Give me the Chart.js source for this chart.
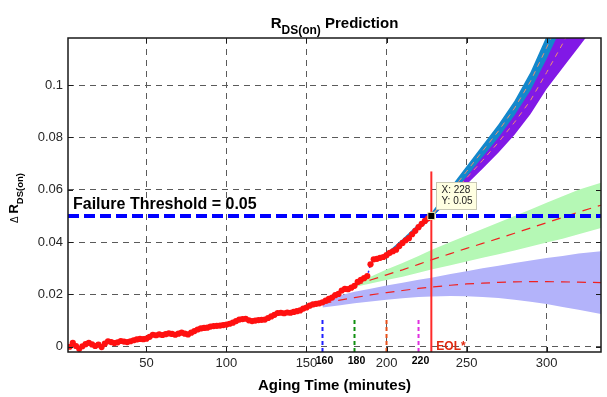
<!DOCTYPE html>
<html>
<head>
<meta charset="utf-8">
<script src="https://cdn.jsdelivr.net/npm/chart.js@4.4.0/dist/chart.umd.min.js"></script>
<style>
  html, body { margin: 0; padding: 0; background: #fff; }
  #wrap { width: 607px; height: 397px; }
</style>
</head>
<body>
<div id="wrap"><canvas id="rdsChart"></canvas></div>
<script>
// ---- values ----
const xTicks = [50, 100, 150, 200, 250, 300];
const yTicks = [0, 0.02, 0.04, 0.06, 0.08, 0.1];
const yTickLabels = ['0', '0.02', '0.04', '0.06', '0.08', '0.1'];

// measured Delta R_DS(on)
const agingTime = [
  2, 4, 6, 8, 10, 12, 14, 16, 18, 20,
  22, 24, 26, 28, 30, 32, 34, 36, 38, 40,
  42, 44, 46, 48, 50, 52, 54, 56, 58, 60,
  62, 64, 66, 68, 70, 72, 74, 76, 78, 80,
  82, 84, 86, 88, 90, 92, 94, 96, 98, 100,
  102, 104, 106, 108, 110, 112, 114, 116, 118, 120,
  122, 124, 126, 128, 130, 132, 134, 136, 138, 140,
  142, 144, 146, 148, 150, 152, 154, 156, 158, 160,
  162, 164, 166, 168, 170, 172, 174, 176, 178, 180,
  182, 184, 186, 188, 190, 192, 194, 196, 198, 200,
  202, 204, 206, 208, 210, 212, 214, 216, 218, 220,
  222, 224, 226, 228
];
const rdsMeasured = [
  0.0000, 0.0015, 0.0003, -0.0008, 0.0002, 0.0010, 0.0015, 0.0009, 0.0003, 0.0008,
  -0.0001, 0.0012, 0.0021, 0.0018, 0.0014, 0.0017, 0.0022, 0.0020, 0.0018, 0.0021,
  0.0025, 0.0028, 0.0030, 0.0029, 0.0031, 0.0038, 0.0046, 0.0044, 0.0047, 0.0045,
  0.0048, 0.0051, 0.0049, 0.0046, 0.0050, 0.0054, 0.0050, 0.0047, 0.0054, 0.0060,
  0.0066, 0.0070, 0.0072, 0.0073, 0.0077, 0.0079, 0.0080, 0.0081, 0.0083, 0.0085,
  0.0088, 0.0092, 0.0098, 0.0104, 0.0106, 0.0107, 0.0101, 0.0098, 0.0100, 0.0102,
  0.0103, 0.0104, 0.0110, 0.0116, 0.0122, 0.0129, 0.0130, 0.0128, 0.0131, 0.0130,
  0.0133, 0.0136, 0.0139, 0.0146, 0.0150, 0.0157, 0.0162, 0.0164, 0.0166, 0.0170,
  0.0176, 0.0183, 0.0188, 0.0197, 0.0202, 0.0215, 0.0221, 0.0220, 0.0226, 0.0233,
  0.0248, 0.0256, 0.0262, 0.0270, 0.0315, 0.0334, 0.0336, 0.0340, 0.0343, 0.0350,
  0.0359, 0.0365, 0.0371, 0.0385, 0.0397, 0.0407, 0.0415, 0.0430, 0.0443, 0.0457,
  0.0470, 0.0481, 0.0491, 0.0500
];

const failureThreshold = 0.05;
const eolTime = 228;
const predStarts = [160, 180, 200, 220];

// prediction started at 160 min (lavender band)
const pred160Time  = [160, 170, 180, 190, 200, 210, 220, 228, 240, 250, 260, 270, 280, 290, 300, 310, 320, 334];
const pred160Upper = [0.0178, 0.0195, 0.0210, 0.0222, 0.0234, 0.0245, 0.0256, 0.0264, 0.0278, 0.0289, 0.0300, 0.0310, 0.0320, 0.0330, 0.0339, 0.0347, 0.0356, 0.0365];
const pred160Lower = [0.0150, 0.0158, 0.0166, 0.0173, 0.0180, 0.0185, 0.0190, 0.0192, 0.0194, 0.0193, 0.0190, 0.0186, 0.0180, 0.0172, 0.0163, 0.0152, 0.0141, 0.0125];
const pred160Mean  = [0.0164, 0.0177, 0.0188, 0.0198, 0.0207, 0.0215, 0.0223, 0.0228, 0.0235, 0.0240, 0.0243, 0.0246, 0.0248, 0.0249, 0.0249, 0.0248, 0.0247, 0.0245];

// prediction started at 180 min (green band)
const pred180Time  = [180, 190, 200, 210, 220, 228, 240, 250, 260, 270, 280, 290, 300, 310, 320, 334];
const pred180Upper = [0.0238, 0.0268, 0.0295, 0.0320, 0.0347, 0.0370, 0.0400, 0.0425, 0.0450, 0.0475, 0.0500, 0.0525, 0.0550, 0.0575, 0.0600, 0.0627];
const pred180Lower = [0.0228, 0.0242, 0.0255, 0.0268, 0.0283, 0.0295, 0.0312, 0.0326, 0.0340, 0.0354, 0.0368, 0.0383, 0.0398, 0.0413, 0.0430, 0.0454];
const pred180Mean  = [0.0233, 0.0255, 0.0275, 0.0294, 0.0315, 0.0332, 0.0356, 0.0376, 0.0395, 0.0414, 0.0434, 0.0454, 0.0474, 0.0494, 0.0515, 0.0541];

// prediction started at 200 min (blue band)
const pred200Time  = [196, 200, 210, 220, 228, 240, 250, 260, 270, 280, 290, 300, 310];
const pred200Upper = [0.0345, 0.0358, 0.0412, 0.0470, 0.0512, 0.0610, 0.0690, 0.0770, 0.0850, 0.0940, 0.1050, 0.1187, 0.1320];
const pred200Lower = [0.0335, 0.0345, 0.0393, 0.0446, 0.0488, 0.0575, 0.0650, 0.0725, 0.0800, 0.0885, 0.0980, 0.1100, 0.1230];
const pred200Mean  = [0.0340, 0.0351, 0.0402, 0.0458, 0.0500, 0.0592, 0.0670, 0.0748, 0.0825, 0.0912, 0.1015, 0.1143, 0.1275];

// prediction started at 220 min (purple band)
const pred220Time  = [220, 228, 240, 250, 260, 270, 280, 290, 300, 310, 320, 330];
const pred220Upper = [0.0458, 0.0505, 0.0595, 0.0670, 0.0745, 0.0822, 0.0905, 0.0995, 0.1110, 0.1250, 0.1400, 0.1560];
const pred220Lower = [0.0452, 0.0495, 0.0560, 0.0620, 0.0680, 0.0742, 0.0810, 0.0890, 0.0985, 0.1065, 0.1145, 0.1225];
const pred220Mean  = [0.0455, 0.0500, 0.0578, 0.0645, 0.0712, 0.0782, 0.0858, 0.0942, 0.1048, 0.1158, 0.1272, 0.1392];

// ---- chart ----
const X_MIN = 1, X_MAX = 334, Y_MIN = -0.002, Y_MAX = 0.118;
const FONT = '"Liberation Sans", Arial, Helvetica, sans-serif';

function pts(xs, ys) {
  return xs.map((v, i) => ({ x: v, y: ys[i] }));
}

function bandEdge(xs, ys, fillColor, isLower) {
  return {
    data: pts(xs, ys),
    borderWidth: 0,
    pointRadius: 0,
    backgroundColor: fillColor,
    fill: isLower ? '-1' : false
  };
}

function dashedLine(xs, ys, color, width, dash) {
  return {
    data: pts(xs, ys),
    borderColor: color,
    borderWidth: width,
    borderDash: dash,
    pointRadius: 0,
    fill: false
  };
}

const datasets = [
  bandEdge(pred160Time, pred160Upper, '#b3b3fa', false),
  bandEdge(pred160Time, pred160Lower, '#b3b3fa', true),
  bandEdge(pred180Time, pred180Upper, '#b5f8b5', false),
  bandEdge(pred180Time, pred180Lower, '#b5f8b5', true),
  bandEdge(pred220Time, pred220Upper, '#8119e6', false),
  bandEdge(pred220Time, pred220Lower, '#8119e6', true),
  bandEdge(pred200Time, pred200Upper, '#1388cc', false),
  bandEdge(pred200Time, pred200Lower, '#1388cc', true),
  dashedLine(pred160Time, pred160Mean, '#f02020', 1.2, [9, 7]),
  dashedLine(pred180Time, pred180Mean, '#f02020', 1.2, [9, 7]),
  dashedLine(pred220Time, pred220Mean, '#f09070', 1, [5, 5]),
  dashedLine(pred200Time, pred200Mean, '#f09070', 1, [5, 5]),
  // failure threshold
  dashedLine([X_MIN, X_MAX], [failureThreshold, failureThreshold], '#0000ff', 4, [11, 5]),
  // measured data: blue dotted line with red dots
  dashedLine(agingTime, rdsMeasured, '#2a2aff', 1.5, [2, 3]),
  {
    data: pts(agingTime, rdsMeasured),
    showLine: false,
    pointRadius: 3.1,
    pointBackgroundColor: '#ff1010',
    pointBorderWidth: 0
  },
  // prediction start markers
  dashedLine([predStarts[0], predStarts[0]], [Y_MIN, 0.0105], '#2020ff', 2, [4, 3]),
  dashedLine([predStarts[1], predStarts[1]], [Y_MIN, 0.0105], '#109010', 2, [4, 3]),
  dashedLine([predStarts[2], predStarts[2]], [Y_MIN, 0.0105], '#e8501a', 2, [4, 3]),
  dashedLine([predStarts[3], predStarts[3]], [Y_MIN, 0.0105], '#e030e0', 2, [4, 3]),
  // end of life
  dashedLine([eolTime, eolTime], [Y_MIN, 0.067], '#ff2a2a', 2, []),
  {
    data: [{ x: eolTime, y: failureThreshold }],
    showLine: false,
    pointStyle: 'rect',
    pointRadius: 5,
    pointBackgroundColor: '#000000',
    pointBorderColor: '#f4f0b0',
    pointBorderWidth: 1
  }
];
// later entries sit on top
datasets.forEach((d, i) => { d.order = 100 - i; d.clip = 0; });

// text, frame and datatip drawn on top of the plot
const decorPlugin = {
  id: 'decor',
  afterDraw(chart) {
    const { ctx, chartArea: a, scales: { x, y } } = chart;
    ctx.save();

    // axes box with inward ticks
    ctx.strokeStyle = '#1a1a1a';
    ctx.lineWidth = 1.5;
    ctx.setLineDash([]);
    ctx.strokeRect(a.left, a.top, a.right - a.left, a.bottom - a.top);
    ctx.lineWidth = 1;
    ctx.beginPath();
    xTicks.forEach(v => {
      const px = Math.round(x.getPixelForValue(v)) + 0.5;
      ctx.moveTo(px, a.bottom); ctx.lineTo(px, a.bottom - 5);
      ctx.moveTo(px, a.top); ctx.lineTo(px, a.top + 5);
    });
    yTicks.forEach(v => {
      const py = Math.round(y.getPixelForValue(v)) + 0.5;
      ctx.moveTo(a.left, py); ctx.lineTo(a.left + 5, py);
      ctx.moveTo(a.right, py); ctx.lineTo(a.right - 5, py);
    });
    ctx.stroke();

    // title R_DS(on) Prediction
    const bigT = 'bold 15px ' + FONT, subT = 'bold 12px ' + FONT;
    ctx.fillStyle = '#000';
    ctx.textBaseline = 'alphabetic';
    ctx.textAlign = 'left';
    ctx.font = bigT; const wR = ctx.measureText('R').width;
    const wP = ctx.measureText(' Prediction').width;
    ctx.font = subT; const wS = ctx.measureText('DS(on)').width;
    let tx = (a.left + a.right) / 2 - (wR + wS + wP) / 2;
    ctx.font = bigT; ctx.fillText('R', tx, 28);
    ctx.font = subT; ctx.fillText('DS(on)', tx + wR, 34);
    ctx.font = bigT; ctx.fillText(' Prediction', tx + wR + wS, 28);

    // x axis title
    ctx.font = 'bold 15px ' + FONT;
    ctx.textAlign = 'center';
    ctx.fillText('Aging Time (minutes)', (a.left + a.right) / 2, 390);

    // y axis title, rotated
    ctx.save();
    ctx.translate(18, 223);
    ctx.rotate(-Math.PI / 2);
    ctx.textAlign = 'left';
    ctx.font = '10px ' + FONT;
    ctx.fillText('\u0394', 0, 0);
    const wD = ctx.measureText('\u0394 ').width;
    ctx.font = 'bold 13px ' + FONT;
    ctx.fillText('R', wD, 0);
    const wR2 = ctx.measureText('R').width;
    ctx.font = 'bold 9.5px ' + FONT;
    ctx.fillText('DS(on)', wD + wR2, 5);
    ctx.restore();

    // failure threshold label
    ctx.font = 'bold 16px ' + FONT;
    ctx.textAlign = 'left';
    ctx.fillText('Failure Threshold = ' + failureThreshold, a.left + 5, y.getPixelForValue(failureThreshold) - 7);

    // prediction start labels
    ctx.font = 'bold 10.5px ' + FONT;
    ctx.textAlign = 'center';
    ctx.textBaseline = 'top';
    [160, 180, 220].forEach(v => {
      ctx.fillText(String(v), x.getPixelForValue(v) + 2, a.bottom + 4);
    });

    // EOL label
    ctx.fillStyle = '#e02a10';
    ctx.font = 'bold 12px ' + FONT;
    ctx.textAlign = 'left';
    ctx.textBaseline = 'alphabetic';
    ctx.fillText('EOL*', x.getPixelForValue(eolTime) + 5, a.bottom - 2);

    // datatip
    const mx = x.getPixelForValue(eolTime), my = y.getPixelForValue(failureThreshold);
    const bx = Math.round(mx + 5) + 0.5, by = Math.round(my - 34) + 0.5;
    ctx.fillStyle = '#ffffe1';
    ctx.strokeStyle = '#c8c8b4';
    ctx.lineWidth = 1;
    ctx.fillRect(bx, by, 40, 27);
    ctx.strokeRect(bx, by, 40, 27);
    ctx.fillStyle = '#222';
    ctx.font = '10px ' + FONT;
    ctx.textBaseline = 'middle';
    ctx.fillText('X: ' + eolTime, bx + 5, by + 8);
    ctx.fillText('Y: ' + failureThreshold, bx + 5, by + 19);

    ctx.restore();
  }
};

const ctxR = document.getElementById('rdsChart').getContext('2d');
const rdsChart = new Chart(ctxR, {
  type: 'line',
  data: { datasets: datasets },
  options: {
    responsive: true,
    maintainAspectRatio: false,
    animation: false,
    devicePixelRatio: 1,
    layout: { padding: { top: 38, right: 3, left: 0, bottom: 0 } },
    scales: {
      x: {
        type: 'linear',
        min: X_MIN,
        max: X_MAX,
        afterBuildTicks: scale => { scale.ticks = xTicks.map(v => ({ value: v })); },
        afterFit: scale => { scale.height = 45; },
        ticks: {
          autoSkip: false,
          maxRotation: 0,
          padding: 4,
          color: '#262626',
          font: { family: FONT, size: 13 }
        },
        grid: { color: '#5a5a5a', lineWidth: 1, drawTicks: false },
        border: { display: false, dash: [6, 5] }
      },
      y: {
        type: 'linear',
        min: Y_MIN,
        max: Y_MAX,
        afterBuildTicks: scale => { scale.ticks = yTicks.map(v => ({ value: v })); },
        afterFit: scale => { scale.width = 68; },
        ticks: {
          padding: 5,
          color: '#262626',
          font: { family: FONT, size: 13 },
          callback: (value, index) => yTickLabels[index]
        },
        grid: { color: '#5a5a5a', lineWidth: 1, drawTicks: false },
        border: { display: false, dash: [6, 5] }
      }
    },
    plugins: {
      legend: { display: false },
      title: { display: false },
      tooltip: { enabled: false }
    }
  },
  plugins: [decorPlugin]
});
</script>
</body>
</html>
